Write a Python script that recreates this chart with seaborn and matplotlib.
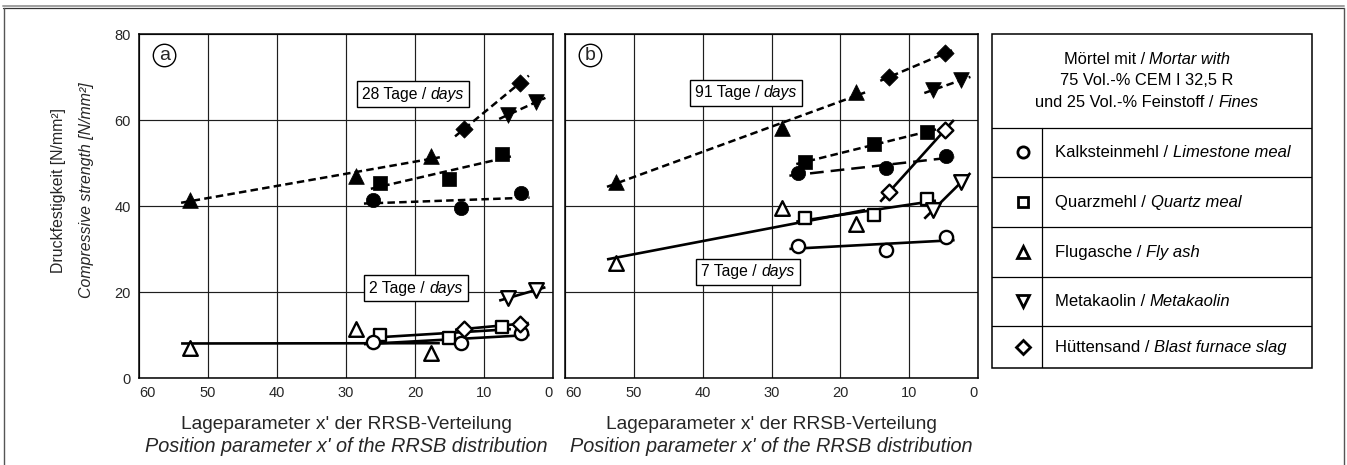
import numpy as np
import pandas as pd
import matplotlib
matplotlib.use("Agg")
import matplotlib.pyplot as plt
import seaborn as sns
from matplotlib.offsetbox import TextArea, HPacker, AnnotationBbox
from matplotlib.lines import Line2D
from matplotlib.patches import Rectangle

# ---------------------------------------------------------------------------
# Data: compressive strength of mortars with 25 vol.-% fines versus the RRSB
# position parameter x' of the fines
# ---------------------------------------------------------------------------
materials_de = ["Kalksteinmehl", "Quarzmehl", "Flugasche", "Metakaolin", "Hüttensand"]
materials_en = ["Limestone meal", "Quartz meal", "Fly ash", "Metakaolin", "Blast furnace slag"]

# position parameter x' of each fine
x_kalk = [26.1, 13.3, 4.7]
x_quarz = [25.1, 15.1, 7.4]
x_flug = [52.6, 28.5, 17.7]
x_meta = [6.5, 2.4]
x_huett = [12.9, 4.8]

# compressive strength [N/mm2] after 2 days
f2_kalk = [8.4, 8.1, 10.5]
f2_quarz = [10.0, 9.3, 11.9]
f2_flug = [7.0, 11.4, 5.8]
f2_meta = [18.6, 20.5]
f2_huett = [11.4, 12.6]

# after 28 days
f28_kalk = [41.4, 39.5, 43.0]
f28_quarz = [45.3, 46.3, 52.1]
f28_flug = [41.4, 47.0, 51.6]
f28_meta = [61.2, 64.2]
f28_huett = [57.9, 68.6]

# after 7 days
f7_kalk = [30.7, 29.8, 32.8]
f7_quarz = [37.2, 37.9, 41.6]
f7_flug = [26.7, 39.5, 35.8]
f7_meta = [39.1, 45.6]
f7_huett = [43.3, 57.7]

# after 91 days
f91_kalk = [47.6, 48.8, 51.6]
f91_quarz = [50.2, 54.4, 57.2]
f91_flug = [45.6, 58.1, 66.5]
f91_meta = [67.0, 69.3]
f91_huett = [70.0, 75.5]

x_ticks = [0, 10, 20, 30, 40, 50, 60]
y_ticks = [0, 20, 40, 60, 80]

# ---------------------------------------------------------------------------
sns.set_style("white")
FONT = ["Liberation Sans", "DejaVu Sans"]
plt.rcParams["font.family"] = FONT

W, H = 1347, 465
fig = plt.figure(figsize=(W / 100, H / 100), dpi=100)


def fx(px):
    return px / W


def fy(py):
    return 1 - py / H


def axes_px(left, top, right, bottom):
    return fig.add_axes([fx(left), fy(bottom), (right - left) / W, (bottom - top) / H])


ax_a = axes_px(139, 34, 553, 378)
ax_b = axes_px(565, 34, 978, 378)

markers = {"kalk": "o", "quarz": "s", "flug": "^", "meta": "v", "huett": "D"}
msize = {"kalk": 9.5, "quarz": 9.0, "flug": 10.5, "meta": 10.5, "huett": 8.0}
xs = {"kalk": x_kalk, "quarz": x_quarz, "flug": x_flug, "meta": x_meta, "huett": x_huett}

early = {
    "a": {"kalk": f2_kalk, "quarz": f2_quarz, "flug": f2_flug, "meta": f2_meta, "huett": f2_huett},
    "b": {"kalk": f7_kalk, "quarz": f7_quarz, "flug": f7_flug, "meta": f7_meta, "huett": f7_huett},
}
late = {
    "a": {"kalk": f28_kalk, "quarz": f28_quarz, "flug": f28_flug, "meta": f28_meta, "huett": f28_huett},
    "b": {"kalk": f91_kalk, "quarz": f91_quarz, "flug": f91_flug, "meta": f91_meta, "huett": f91_huett},
}

SHORT_DASH = (0, (3.0, 1.7))
LONG_DASH = (0, (5.5, 2.8))


def trend(ax, x, y, ls, lw):
    k, d = np.polyfit(x, y, 1)
    xl = np.array([max(x) + 1.3, min(x) - 1.3])
    ax.plot(xl, k * xl + d, color="black", lw=lw, linestyle=ls, zorder=2,
            solid_capstyle="butt", dash_capstyle="butt")


def points(ax, key, x, y, filled):
    df = pd.DataFrame({"x": x, "y": y})
    ms = msize[key]
    if filled:
        sns.scatterplot(data=df, x="x", y="y", ax=ax, marker=markers[key], s=(ms + 0.8) ** 2,
                        color="black", edgecolor="black", linewidth=0.5, zorder=4, legend=False)
    else:
        sns.scatterplot(data=df, x="x", y="y", ax=ax, marker=markers[key], s=ms ** 2,
                        color="white", edgecolor="black", linewidth=1.7, zorder=4, legend=False)


for name, ax in (("a", ax_a), ("b", ax_b)):
    for key in ["flug", "quarz", "kalk", "huett", "meta"]:
        x = xs[key]
        # early age: open symbols, solid trend lines
        trend(ax, x, early[name][key], "-", 1.9)
        points(ax, key, x, early[name][key], filled=False)
        # late age: filled symbols, dashed trend lines
        ls = LONG_DASH if (name == "b" and key == "kalk") else SHORT_DASH
        trend(ax, x, late[name][key], ls, 1.8)
        points(ax, key, x, late[name][key], filled=True)

    ax.set_xlim(60, 0)
    ax.set_ylim(0, 80)
    ax.set_xticks(x_ticks)
    ax.set_xticklabels([str(v) for v in x_ticks])
    ax.set_yticks(y_ticks)
    ax.grid(True, color="#1e1e1e", lw=0.85)
    ax.set_axisbelow(True)
    for sp in ax.spines.values():
        sp.set_color("black")
        sp.set_linewidth(1.1)
    ax.tick_params(length=0, labelsize=10.5, pad=6)
    ax.set_xlabel("")
    ax.set_ylabel("")
    # keep the outermost tick labels inside the panel width
    xlabels = ax.get_xticklabels()
    xlabels[0].set_horizontalalignment("right")
    xlabels[-1].set_horizontalalignment("left")

    # circled panel letter
    ax.text(56.3, 75.0, name, ha="center", va="center", fontsize=14, zorder=6,
            bbox=dict(boxstyle="circle,pad=0.14", fc="white", ec="black", lw=1.0))

ax_b.tick_params(labelleft=False)


def mixed_text(parts, size):
    boxes = [TextArea(t, textprops=dict(fontsize=size, color="black", family=FONT,
                                        fontstyle="italic" if it else "normal"))
             for t, it in parts]
    return HPacker(children=boxes, align="baseline", pad=0, sep=size * 0.28)


def age_label(ax, xy, text):
    box = mixed_text([(text, False), ("days", True)], 11.3)
    ab = AnnotationBbox(box, xy, xycoords="data", box_alignment=(0.5, 0.5), frameon=True,
                        pad=0.38, zorder=7,
                        bboxprops=dict(edgecolor="black", facecolor="white", lw=1.0))
    ax.add_artist(ab)


age_label(ax_a, (20.3, 66.0), "28 Tage /")
age_label(ax_a, (19.9, 20.9), "2 Tage /")
age_label(ax_b, (33.7, 66.3), "91 Tage /")
age_label(ax_b, (33.4, 24.7), "7 Tage /")

# axis titles
for cx in ((139 + 553) / 2, (565 + 978) / 2):
    fig.text(fx(cx), fy(424), "Lageparameter x' der RRSB-Verteilung", ha="center", va="center",
             fontsize=13.8)
    fig.text(fx(cx), fy(446), "Position parameter x' of the RRSB distribution", ha="center",
             va="center", fontsize=14.3, fontstyle="italic")

fig.text(fx(59), fy(190), "Druckfestigkeit [N/mm²]", rotation=90, ha="center", va="center",
         fontsize=11.4)
fig.text(fx(87), fy(190), "Compressive strength [N/mm²]", rotation=90, ha="center",
         va="center", fontsize=11.4, fontstyle="italic")

# legend table
L, T, R, B = 992, 34, 1312, 368
ax_l = axes_px(L, T, R, B)
ax_l.set_xlim(L, R)
ax_l.set_ylim(B, T)
ax_l.axis("off")
ax_l.add_patch(Rectangle((L, T), R - L, B - T, fill=False, ec="black", lw=1.1, clip_on=False))
row_lines = [128, 177, 227, 277, 326]
for yl in row_lines:
    ax_l.plot([L, R], [yl, yl], color="black", lw=0.9)
ax_l.plot([1042, 1042], [128, B], color="black", lw=0.9)

header = [
    [("Mörtel mit /", False), ("Mortar with", True)],
    [("75 Vol.-% CEM I 32,5 R", False)],
    [("und 25 Vol.-% Feinstoff /", False), ("Fines", True)],
]
for i, parts in enumerate(header):
    ab = AnnotationBbox(mixed_text(parts, 11.8), (1147, 59 + 21.5 * i), xycoords="data",
                        box_alignment=(0.5, 0.5), frameon=False)
    ax_l.add_artist(ab)

row_centers = [152, 202, 252, 301, 347]
for key, de, en, yc in zip(["kalk", "quarz", "flug", "meta", "huett"], materials_de,
                           materials_en, row_centers):
    ax_l.plot([1023], [yc], marker=markers[key], ms=msize[key] * 0.85, mfc="white",
              mec="black", mew=2.0, ls="none")
    ab = AnnotationBbox(mixed_text([(de + " /", False), (en, True)], 12.0), (1055, yc),
                        xycoords="data", box_alignment=(0.0, 0.5), frameon=False)
    ax_l.add_artist(ab)

# page frame
fig.add_artist(Line2D([fx(3), fx(1344)], [fy(6.5), fy(6.5)], color="#a0a0a0", lw=1.4))
fig.add_artist(Line2D([fx(3), fx(1344)], [fy(8.5), fy(8.5)], color="#333333", lw=0.9))
fig.add_artist(Line2D([fx(3.5), fx(3.5)], [fy(8.5), 0], color="#555555", lw=1.0))
fig.add_artist(Line2D([fx(1343.5), fx(1343.5)], [fy(8.5), 0], color="#555555", lw=1.0))

fig.savefig("out.png", dpi=100)
